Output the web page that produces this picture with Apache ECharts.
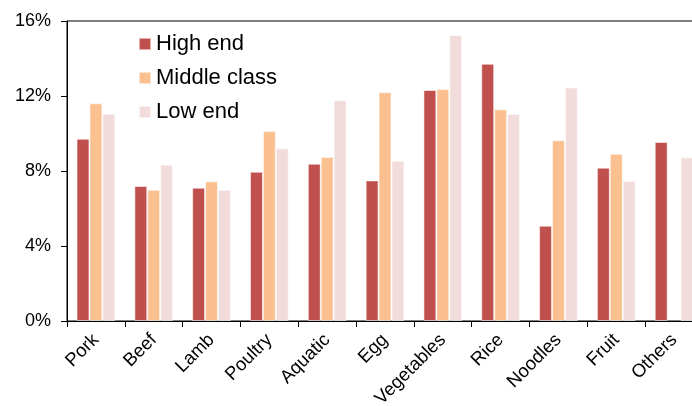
<!DOCTYPE html>
<html>
<head>
<meta charset="utf-8">
<script src="https://cdn.jsdelivr.net/npm/echarts@6/dist/echarts.min.js"></script>
<style>
  html, body { margin: 0; padding: 0; background: #fff; }
  #chart { width: 692px; height: 406px; }
</style>
</head>
<body>
<div id="chart"></div>
<script>
// Food spending share by income group
const categories = ['Pork', 'Beef', 'Lamb', 'Poultry', 'Aquatic', 'Egg', 'Vegetables', 'Rice', 'Noodles', 'Fruit', 'Others'];
const highEnd = [9.72, 7.2, 7.11, 7.96, 8.39, 7.5, 12.32, 13.72, 5.08, 8.18, 9.55];
const middleClass = [11.61, 7.0, 7.45, 10.13, 8.75, 12.2, 12.37, 11.29, 9.64, 8.92, null];
const lowEnd = [11.06, 8.34, 7.0, 9.21, 11.77, 8.55, 15.25, 11.04, 12.46, 7.47, 8.73];
const yTicks = [0, 4, 8, 12, 16];

const font = 'Liberation Sans, Arial, sans-serif';
const chart = echarts.init(document.getElementById('chart'), null, { renderer: 'canvas' });

function barSeries(name, data, color) {
  return {
    name: name,
    type: 'bar',
    data: data,
    barGap: '0%',
    barCategoryGap: '33%',
    itemStyle: { color: color, borderColor: 'rgba(255,255,255,0.55)', borderWidth: 1 },
    emphasis: { disabled: true }
  };
}

// The plot runs past the right edge of the canvas, so its width is fixed
// and the grid is not clamped to the container.
chart.setOption({
  animation: false,
  grid: {
    left: 67, top: 21, width: 636, height: 300,
    outerBoundsMode: 'none',
    containLabel: false,
    show: true, borderColor: '#000', borderWidth: 1
  },
  legend: {
    orient: 'vertical',
    left: 133, top: 28,
    itemWidth: 12, itemHeight: 12,
    itemGap: 12,
    icon: 'rect',
    textStyle: { fontFamily: font, fontSize: 22, color: '#000' },
    data: ['High end', 'Middle class', 'Low end']
  },
  xAxis: {
    type: 'category',
    data: categories,
    axisLine: { lineStyle: { color: '#000', width: 1 } },
    axisTick: { show: true, length: 6, lineStyle: { color: '#000' } },
    axisLabel: { rotate: 45, margin: 16, fontFamily: font, fontSize: 18.5, color: '#000', interval: 0 }
  },
  yAxis: {
    type: 'value',
    min: yTicks[0], max: yTicks[yTicks.length - 1], interval: 4,
    splitLine: { show: false },
    axisLine: { show: true, lineStyle: { color: '#000', width: 1 } },
    axisTick: { show: true, length: 6, lineStyle: { color: '#000' } },
    axisLabel: { margin: 16, fontFamily: font, fontSize: 18, color: '#000', formatter: '{value}%' }
  },
  series: [
    barSeries('High end', highEnd, '#C0504D'),
    barSeries('Middle class', middleClass, '#FAC090'),
    barSeries('Low end', lowEnd, '#F2DCDB')
  ]
});
</script>
</body>
</html>
